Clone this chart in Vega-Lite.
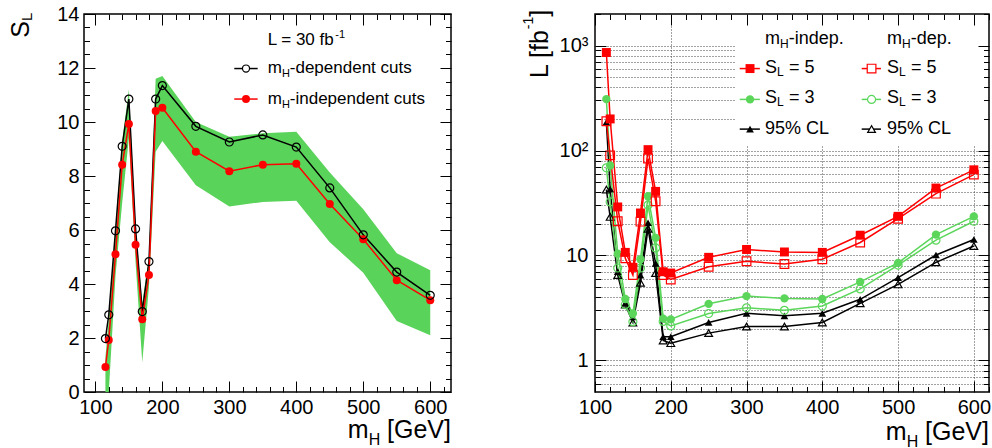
{
"$schema": "https://vega.github.io/schema/vega-lite/v6.json",
"padding": {"left": 8, "top": 3, "right": 2, "bottom": 2},
"bounds": "flush",
"spacing": 144,
"config": {"view": {"stroke": "black", "strokeWidth": 1.5}, "font": "Liberation Sans", "axis": {"labelFont": "Liberation Sans", "labelFontSize": 20, "labelColor": "black"}, "text": {"font": "Liberation Sans", "color": "black"}},
"datasets": {
"sl": [
{"m":115,"dep":1.98,"indep":0.93,"lo":0,"hi":1.3},
{"m":120,"dep":2.86,"indep":1.93,"lo":0,"hi":2.7},
{"m":130,"dep":5.97,"indep":5.1,"lo":4.3,"hi":6.0},
{"m":140,"dep":9.1,"indep":8.42,"lo":7.0,"hi":9.3},
{"m":150,"dep":10.85,"indep":9.93,"lo":9.4,"hi":11.2},
{"m":160,"dep":6.04,"indep":5.45,"lo":4.8,"hi":6.1},
{"m":170,"dep":2.98,"indep":2.69,"lo":1.1,"hi":3.3},
{"m":180,"dep":4.83,"indep":4.33,"lo":3.9,"hi":5.0},
{"m":190,"dep":10.85,"indep":10.41,"lo":8.9,"hi":11.6},
{"m":200,"dep":11.35,"indep":10.53,"lo":9.3,"hi":11.7},
{"m":250,"dep":9.84,"indep":8.9,"lo":7.66,"hi":10.0},
{"m":300,"dep":9.26,"indep":8.18,"lo":6.87,"hi":9.45},
{"m":350,"dep":9.52,"indep":8.42,"lo":7.04,"hi":9.58},
{"m":400,"dep":9.07,"indep":8.45,"lo":7.08,"hi":9.64},
{"m":450,"dep":7.56,"indep":6.96,"lo":5.55,"hi":8.13},
{"m":500,"dep":5.82,"indep":5.66,"lo":4.42,"hi":6.77},
{"m":550,"dep":4.44,"indep":4.14,"lo":2.63,"hi":5.14},
{"m":600,"dep":3.58,"indep":3.4,"lo":2.1,"hi":4.51}
],
"lumi": [
{"m":115,"s5i":859,"s5d":190,"s3i":309,"s3d":68.4,"cli":186,"cld":42.4},
{"m":120,"s5i":200,"s5d":90,"s3i":72,"s3d":32.4,"cli":43,"cld":23.3},
{"m":130,"s5i":29,"s5d":21.2,"s3i":10.4,"s3d":7.6,"cli":7.0,"cld":6.5},
{"m":140,"s5i":10.7,"s5d":9.4,"s3i":3.85,"s3d":3.4,"cli":3.5,"cld":3.4},
{"m":150,"s5i":7.7,"s5d":6.5,"s3i":2.8,"s3d":2.34,"cli":2.6,"cld":2.3},
{"m":160,"s5i":25.4,"s5d":21,"s3i":9.2,"s3d":7.6,"cli":6.5,"cld":5.5},
{"m":170,"s5i":102,"s5d":84,"s3i":36.7,"s3d":30.2,"cli":20.5,"cld":18},
{"m":180,"s5i":40.8,"s5d":32.9,"s3i":14.7,"s3d":11.8,"cli":8.4,"cld":6.8},
{"m":190,"s5i":7.0,"s5d":6.5,"s3i":2.5,"s3d":2.35,"cli":1.68,"cld":1.55},
{"m":200,"s5i":6.8,"s5d":5.9,"s3i":2.46,"s3d":2.13,"cli":1.68,"cld":1.46},
{"m":250,"s5i":9.6,"s5d":7.8,"s3i":3.46,"s3d":2.8,"cli":2.3,"cld":1.82},
{"m":300,"s5i":11.4,"s5d":8.8,"s3i":4.1,"s3d":3.17,"cli":2.81,"cld":2.1},
{"m":350,"s5i":10.8,"s5d":8.3,"s3i":3.9,"s3d":3.0,"cli":2.66,"cld":2.1},
{"m":400,"s5i":10.7,"s5d":9.2,"s3i":3.85,"s3d":3.3,"cli":2.81,"cld":2.3},
{"m":450,"s5i":15.6,"s5d":13.3,"s3i":5.6,"s3d":4.8,"cli":3.82,"cld":3.5},
{"m":500,"s5i":23.6,"s5d":22.4,"s3i":8.5,"s3d":8.1,"cli":6.14,"cld":5.3},
{"m":550,"s5i":43.9,"s5d":38.8,"s3i":15.8,"s3d":14.0,"cli":10.1,"cld":8.6},
{"m":600,"s5i":65.5,"s5d":59,"s3i":23.6,"s3d":21.2,"cli":14.2,"cld":12.3}
]
},
"hconcat": [
{
"width": 367, "height": 378,
"resolve": {"axis": {"x": "independent", "y": "independent"}},
"layer": [
{"data": {"name": "sl"}, "mark": {"type": "area", "color": "#5ad35a", "opacity": 1},
 "encoding": {
  "x": {"field": "m", "type": "quantitative", "scale": {"domain": [83, 631], "nice": false, "zero": false}, "axis": {"orient": "bottom", "values": [100,200,300,400,500,600], "ticks": false, "domain": false, "grid": false, "title": null, "labelPadding": 5, "labelFlush": false, "labelOverlap": false, "labelBound": false, "zindex": 0}},
  "y": {"field": "lo", "type": "quantitative", "scale": {"domain": [0, 14], "nice": false, "zero": false}, "axis": {"orient": "left", "values": [0,2,4,6,8,10,12,14], "ticks": false, "domain": false, "grid": false, "title": null, "labelPadding": 5, "labelFlush": false, "labelOverlap": false, "labelBound": false, "zindex": 0}},
  "y2": {"field": "hi"}}},
{"data": {"name": "sl"}, "mark": {"type": "line", "color": "black", "strokeWidth": 1.5},
 "encoding": {
  "x": {"field": "m", "type": "quantitative", "scale": {"domain": [83, 631], "nice": false, "zero": false}, "axis": {"orient": "bottom", "values": [100,120,140,160,180,200,220,240,260,280,300,320,340,360,380,400,420,440,460,480,500,520,540,560,580,600,620], "labels": false, "domain": false, "grid": false, "title": null, "tickColor": "black", "tickWidth": 1, "tickSize": {"condition": {"test": "datum.value % 100 === 0", "value": -11}, "value": -5.5}, "zindex": 1}},
  "y": {"field": "dep", "type": "quantitative", "scale": {"domain": [0, 14], "nice": false, "zero": false}, "axis": {"orient": "left", "values": [0,0.5,1,1.5,2,2.5,3,3.5,4,4.5,5,5.5,6,6.5,7,7.5,8,8.5,9,9.5,10,10.5,11,11.5,12,12.5,13,13.5,14], "labels": false, "domain": false, "grid": false, "title": null, "tickColor": "black", "tickWidth": 1, "tickSize": {"condition": {"test": "datum.value % 2 === 0", "value": -11}, "value": -5.5}, "zindex": 1}}}},
{"data": {"name": "sl"}, "mark": {"type": "line", "color": "#ff0000", "strokeWidth": 1.5},
 "encoding": {
  "x": {"field": "m", "type": "quantitative", "scale": {"domain": [83, 631], "nice": false, "zero": false}, "axis": {"orient": "top", "values": [100,120,140,160,180,200,220,240,260,280,300,320,340,360,380,400,420,440,460,480,500,520,540,560,580,600,620], "labels": false, "domain": false, "grid": false, "title": null, "tickColor": "black", "tickWidth": 1, "tickSize": {"condition": {"test": "datum.value % 100 === 0", "value": -11}, "value": -5.5}, "zindex": 1}},
  "y": {"field": "indep", "type": "quantitative", "scale": {"domain": [0, 14], "nice": false, "zero": false}, "axis": {"orient": "right", "values": [0,0.5,1,1.5,2,2.5,3,3.5,4,4.5,5,5.5,6,6.5,7,7.5,8,8.5,9,9.5,10,10.5,11,11.5,12,12.5,13,13.5,14], "labels": false, "domain": false, "grid": false, "title": null, "tickColor": "black", "tickWidth": 1, "tickSize": {"condition": {"test": "datum.value % 2 === 0", "value": -11}, "value": -5.5}, "zindex": 1}}}},
{"data": {"name": "sl"}, "mark": {"type": "circle", "color": "#ff0000", "size": 64, "opacity": 1},
 "encoding": {
  "x": {"field": "m", "type": "quantitative", "scale": {"domain": [83, 631], "nice": false, "zero": false}, "axis": null},
  "y": {"field": "indep", "type": "quantitative", "scale": {"domain": [0, 14], "nice": false, "zero": false}, "axis": null}}},
{"data": {"name": "sl"}, "mark": {"type": "point", "shape": "circle", "filled": false, "stroke": "black", "strokeWidth": 1.2, "size": 64, "opacity": 1},
 "encoding": {
  "x": {"field": "m", "type": "quantitative", "scale": {"domain": [83, 631], "nice": false, "zero": false}, "axis": null},
  "y": {"field": "dep", "type": "quantitative", "scale": {"domain": [0, 14], "nice": false, "zero": false}, "axis": null}}},
{"data": {"values": [{}]}, "mark": {"type": "text", "text": "L = 30 fb", "fontSize": 17, "align": "left", "baseline": "alphabetic"},
 "encoding": {"x": {"datum": 357.3, "type": "quantitative", "scale": {"domain": [83, 631], "nice": false, "zero": false}, "axis": null}, "y": {"datum": 12.85, "type": "quantitative", "scale": {"domain": [0, 14], "nice": false, "zero": false}, "axis": null}}},
{"data": {"values": [{}]}, "mark": {"type": "text", "text": "-1", "fontSize": 11, "align": "left", "baseline": "alphabetic"},
 "encoding": {"x": {"datum": 458.2, "type": "quantitative", "scale": {"domain": [83, 631], "nice": false, "zero": false}, "axis": null}, "y": {"datum": 13.12, "type": "quantitative", "scale": {"domain": [0, 14], "nice": false, "zero": false}, "axis": null}}},
{"data": {"values": [{}]}, "mark": {"type": "rule", "color": "black", "strokeWidth": 1.5},
 "encoding": {"x": {"datum": 307.4, "type": "quantitative", "scale": {"domain": [83, 631], "nice": false, "zero": false}, "axis": null}, "x2": {"datum": 342.3}, "y": {"datum": 11.98, "type": "quantitative", "scale": {"domain": [0, 14], "nice": false, "zero": false}, "axis": null}}},
{"data": {"values": [{}]}, "mark": {"type": "point", "shape": "circle", "filled": false, "fill": "white", "stroke": "black", "strokeWidth": 1.2, "size": 50, "opacity": 1},
 "encoding": {"x": {"datum": 324.9, "type": "quantitative", "scale": {"domain": [83, 631], "nice": false, "zero": false}, "axis": null}, "y": {"datum": 11.98, "type": "quantitative", "scale": {"domain": [0, 14], "nice": false, "zero": false}, "axis": null}}},
{"data": {"values": [{}]}, "mark": {"type": "text", "text": "m", "fontSize": 17, "align": "left", "baseline": "alphabetic"},
 "encoding": {"x": {"datum": 357.3, "type": "quantitative", "scale": {"domain": [83, 631], "nice": false, "zero": false}, "axis": null}, "y": {"datum": 11.80, "type": "quantitative", "scale": {"domain": [0, 14], "nice": false, "zero": false}, "axis": null}}},
{"data": {"values": [{}]}, "mark": {"type": "text", "text": "H", "fontSize": 11, "align": "left", "baseline": "alphabetic"},
 "encoding": {"x": {"datum": 378.5, "type": "quantitative", "scale": {"domain": [83, 631], "nice": false, "zero": false}, "axis": null}, "y": {"datum": 11.66, "type": "quantitative", "scale": {"domain": [0, 14], "nice": false, "zero": false}, "axis": null}}},
{"data": {"values": [{}]}, "mark": {"type": "text", "text": "-dependent cuts", "fontSize": 17, "align": "left", "baseline": "alphabetic"},
 "encoding": {"x": {"datum": 390.3, "type": "quantitative", "scale": {"domain": [83, 631], "nice": false, "zero": false}, "axis": null}, "y": {"datum": 11.80, "type": "quantitative", "scale": {"domain": [0, 14], "nice": false, "zero": false}, "axis": null}}},
{"data": {"values": [{}]}, "mark": {"type": "rule", "color": "#ff0000", "strokeWidth": 1.5},
 "encoding": {"x": {"datum": 307.4, "type": "quantitative", "scale": {"domain": [83, 631], "nice": false, "zero": false}, "axis": null}, "x2": {"datum": 342.3}, "y": {"datum": 10.85, "type": "quantitative", "scale": {"domain": [0, 14], "nice": false, "zero": false}, "axis": null}}},
{"data": {"values": [{}]}, "mark": {"type": "circle", "color": "#ff0000", "size": 64, "opacity": 1},
 "encoding": {"x": {"datum": 324.9, "type": "quantitative", "scale": {"domain": [83, 631], "nice": false, "zero": false}, "axis": null}, "y": {"datum": 10.85, "type": "quantitative", "scale": {"domain": [0, 14], "nice": false, "zero": false}, "axis": null}}},
{"data": {"values": [{}]}, "mark": {"type": "text", "text": "m", "fontSize": 17, "align": "left", "baseline": "alphabetic"},
 "encoding": {"x": {"datum": 357.3, "type": "quantitative", "scale": {"domain": [83, 631], "nice": false, "zero": false}, "axis": null}, "y": {"datum": 10.66, "type": "quantitative", "scale": {"domain": [0, 14], "nice": false, "zero": false}, "axis": null}}},
{"data": {"values": [{}]}, "mark": {"type": "text", "text": "H", "fontSize": 11, "align": "left", "baseline": "alphabetic"},
 "encoding": {"x": {"datum": 378.5, "type": "quantitative", "scale": {"domain": [83, 631], "nice": false, "zero": false}, "axis": null}, "y": {"datum": 10.52, "type": "quantitative", "scale": {"domain": [0, 14], "nice": false, "zero": false}, "axis": null}}},
{"data": {"values": [{}]}, "mark": {"type": "text", "text": "-independent cuts", "fontSize": 17, "align": "left", "baseline": "alphabetic"},
 "encoding": {"x": {"datum": 390.3, "type": "quantitative", "scale": {"domain": [83, 631], "nice": false, "zero": false}, "axis": null}, "y": {"datum": 10.66, "type": "quantitative", "scale": {"domain": [0, 14], "nice": false, "zero": false}, "axis": null}}},
{"data": {"values": [{}]}, "mark": {"type": "text", "text": "m", "fontSize": 25, "align": "left", "baseline": "alphabetic"},
 "encoding": {"x": {"datum": 476.9, "type": "quantitative", "scale": {"domain": [83, 631], "nice": false, "zero": false}, "axis": null}, "y": {"datum": -1.72, "type": "quantitative", "scale": {"domain": [0, 14], "nice": false, "zero": false}, "axis": null}}},
{"data": {"values": [{}]}, "mark": {"type": "text", "text": "H", "fontSize": 16, "align": "left", "baseline": "alphabetic"},
 "encoding": {"x": {"datum": 508.0, "type": "quantitative", "scale": {"domain": [83, 631], "nice": false, "zero": false}, "axis": null}, "y": {"datum": -1.98, "type": "quantitative", "scale": {"domain": [0, 14], "nice": false, "zero": false}, "axis": null}}},
{"data": {"values": [{}]}, "mark": {"type": "text", "text": "[GeV]", "fontSize": 25, "align": "right", "baseline": "alphabetic"},
 "encoding": {"x": {"datum": 631, "type": "quantitative", "scale": {"domain": [83, 631], "nice": false, "zero": false}, "axis": null}, "y": {"datum": -1.72, "type": "quantitative", "scale": {"domain": [0, 14], "nice": false, "zero": false}, "axis": null}}},
{"data": {"values": [{}]}, "mark": {"type": "text", "text": "S", "fontSize": 25, "angle": 270, "align": "left", "baseline": "alphabetic"},
 "encoding": {"x": {"datum": 0.87, "type": "quantitative", "scale": {"domain": [83, 631], "nice": false, "zero": false}, "axis": null}, "y": {"datum": 13.12, "type": "quantitative", "scale": {"domain": [0, 14], "nice": false, "zero": false}, "axis": null}}},
{"data": {"values": [{}]}, "mark": {"type": "text", "text": "L", "fontSize": 15, "angle": 270, "align": "left", "baseline": "alphabetic"},
 "encoding": {"x": {"datum": 5.35, "type": "quantitative", "scale": {"domain": [83, 631], "nice": false, "zero": false}, "axis": null}, "y": {"datum": 13.74, "type": "quantitative", "scale": {"domain": [0, 14], "nice": false, "zero": false}, "axis": null}}}
]
},
{
"width": 394, "height": 378,
"resolve": {"axis": {"x": "independent", "y": "independent"}},
"layer": [
{"data": {"values": [{}]}, "mark": {"type": "rect", "fill": "white"},
 "encoding": {"x": {"datum": 286, "type": "quantitative", "scale": {"domain": [100, 620], "nice": false, "zero": false}, "axis": null}, "x2": {"datum": 618.5}, "y": {"datum": 111, "type": "quantitative", "scale": {"type": "log", "domain": [0.5, 2000], "nice": false}, "axis": null}, "y2": {"datum": 1960}}},
{"data": {"name": "lumi"}, "mark": {"type": "line", "color": "black", "strokeWidth": 1.5},
 "encoding": {
  "x": {"field": "m", "type": "quantitative", "scale": {"domain": [100, 620], "nice": false, "zero": false}, "axis": {"orient": "bottom", "values": [100,200,300,400,500,600], "ticks": false, "domain": false, "grid": true, "gridColor": "#444444", "gridDash": [1, 2], "gridWidth": 1, "title": null, "labelPadding": 5, "labelFlush": false, "labelOverlap": false, "labelBound": false, "zindex": 0}},
  "y": {"field": "cld", "type": "quantitative", "scale": {"type": "log", "domain": [0.5, 2000], "nice": false}, "axis": {"orient": "left", "values": [0.6,0.7,0.8,0.9,1,2,3,4,5,6,7,8,9,10,20,30,40,50,60,70,80,90,100,200,300,400,500,600,700,800,900,1000,2000], "labelExpr": "datum.value == 1000 ? '10³' : datum.value == 100 ? '10²' : datum.value == 10 ? '10' : datum.value == 1 ? '1' : ''", "ticks": false, "domain": false, "grid": true, "gridColor": "#444444", "gridDash": [1, 2], "gridWidth": 1, "title": null, "labelPadding": 7, "labelFlush": false, "labelOverlap": false, "labelBound": false, "zindex": 0}}}},
{"data": {"name": "lumi"}, "mark": {"type": "line", "color": "black", "strokeWidth": 1.5},
 "encoding": {
  "x": {"field": "m", "type": "quantitative", "scale": {"domain": [100, 620], "nice": false, "zero": false}, "axis": {"orient": "bottom", "values": [100,120,140,160,180,200,220,240,260,280,300,320,340,360,380,400,420,440,460,480,500,520,540,560,580,600,620], "labels": false, "domain": false, "grid": false, "title": null, "tickColor": "black", "tickWidth": 1, "tickSize": {"condition": {"test": "datum.value % 100 === 0", "value": -11}, "value": -5.5}, "zindex": 1}},
  "y": {"field": "cli", "type": "quantitative", "scale": {"type": "log", "domain": [0.5, 2000], "nice": false}, "axis": {"orient": "left", "values": [0.6,0.7,0.8,0.9,1,2,3,4,5,6,7,8,9,10,20,30,40,50,60,70,80,90,100,200,300,400,500,600,700,800,900,1000,2000], "labels": false, "domain": false, "grid": false, "title": null, "tickColor": "black", "tickWidth": 1, "tickSize": {"condition": {"test": "indexof([1,10,100,1000], datum.value) >= 0", "value": -11}, "value": -5.5}, "zindex": 1}}}},
{"data": {"name": "lumi"}, "mark": {"type": "line", "color": "#5bd65b", "strokeWidth": 1.5},
 "encoding": {
  "x": {"field": "m", "type": "quantitative", "scale": {"domain": [100, 620], "nice": false, "zero": false}, "axis": {"orient": "top", "values": [100,120,140,160,180,200,220,240,260,280,300,320,340,360,380,400,420,440,460,480,500,520,540,560,580,600,620], "labels": false, "domain": false, "grid": false, "title": null, "tickColor": "black", "tickWidth": 1, "tickSize": {"condition": {"test": "datum.value % 100 === 0", "value": -11}, "value": -5.5}, "zindex": 1}},
  "y": {"field": "s3d", "type": "quantitative", "scale": {"type": "log", "domain": [0.5, 2000], "nice": false}, "axis": {"orient": "right", "values": [0.6,0.7,0.8,0.9,1,2,3,4,5,6,7,8,9,10,20,30,40,50,60,70,80,90,100,200,300,400,500,600,700,800,900,1000,2000], "labels": false, "domain": false, "grid": false, "title": null, "tickColor": "black", "tickWidth": 1, "tickSize": {"condition": {"test": "indexof([1,10,100,1000], datum.value) >= 0", "value": -11}, "value": -5.5}, "zindex": 1}}}},
{"data": {"name": "lumi"}, "mark": {"type": "line", "color": "#5bd65b", "strokeWidth": 1.5},
 "encoding": {"x": {"field": "m", "type": "quantitative", "scale": {"domain": [100, 620], "nice": false, "zero": false}, "axis": null}, "y": {"field": "s3i", "type": "quantitative", "scale": {"type": "log", "domain": [0.5, 2000], "nice": false}, "axis": null}}},
{"data": {"name": "lumi"}, "mark": {"type": "line", "color": "#ff0000", "strokeWidth": 1.5},
 "encoding": {"x": {"field": "m", "type": "quantitative", "scale": {"domain": [100, 620], "nice": false, "zero": false}, "axis": null}, "y": {"field": "s5d", "type": "quantitative", "scale": {"type": "log", "domain": [0.5, 2000], "nice": false}, "axis": null}}},
{"data": {"name": "lumi"}, "mark": {"type": "line", "color": "#ff0000", "strokeWidth": 1.5},
 "encoding": {"x": {"field": "m", "type": "quantitative", "scale": {"domain": [100, 620], "nice": false, "zero": false}, "axis": null}, "y": {"field": "s5i", "type": "quantitative", "scale": {"type": "log", "domain": [0.5, 2000], "nice": false}, "axis": null}}},
{"data": {"name": "lumi"}, "mark": {"type": "point", "shape": "triangle-up", "filled": false, "stroke": "black", "strokeWidth": 1.2, "size": 60, "opacity": 1},
 "encoding": {"x": {"field": "m", "type": "quantitative", "scale": {"domain": [100, 620], "nice": false, "zero": false}, "axis": null}, "y": {"field": "cld", "type": "quantitative", "scale": {"type": "log", "domain": [0.5, 2000], "nice": false}, "axis": null}}},
{"data": {"name": "lumi"}, "mark": {"type": "point", "shape": "triangle-up", "filled": true, "color": "black", "size": 60, "opacity": 1},
 "encoding": {"x": {"field": "m", "type": "quantitative", "scale": {"domain": [100, 620], "nice": false, "zero": false}, "axis": null}, "y": {"field": "cli", "type": "quantitative", "scale": {"type": "log", "domain": [0.5, 2000], "nice": false}, "axis": null}}},
{"data": {"name": "lumi"}, "mark": {"type": "point", "shape": "circle", "filled": false, "stroke": "#5bd65b", "strokeWidth": 1.2, "size": 64, "opacity": 1},
 "encoding": {"x": {"field": "m", "type": "quantitative", "scale": {"domain": [100, 620], "nice": false, "zero": false}, "axis": null}, "y": {"field": "s3d", "type": "quantitative", "scale": {"type": "log", "domain": [0.5, 2000], "nice": false}, "axis": null}}},
{"data": {"name": "lumi"}, "mark": {"type": "circle", "color": "#5bd65b", "size": 70, "opacity": 1},
 "encoding": {"x": {"field": "m", "type": "quantitative", "scale": {"domain": [100, 620], "nice": false, "zero": false}, "axis": null}, "y": {"field": "s3i", "type": "quantitative", "scale": {"type": "log", "domain": [0.5, 2000], "nice": false}, "axis": null}}},
{"data": {"name": "lumi"}, "mark": {"type": "point", "shape": "square", "filled": false, "stroke": "#ff0000", "strokeWidth": 1.2, "size": 75, "opacity": 1},
 "encoding": {"x": {"field": "m", "type": "quantitative", "scale": {"domain": [100, 620], "nice": false, "zero": false}, "axis": null}, "y": {"field": "s5d", "type": "quantitative", "scale": {"type": "log", "domain": [0.5, 2000], "nice": false}, "axis": null}}},
{"data": {"name": "lumi"}, "mark": {"type": "square", "color": "#ff0000", "size": 80, "opacity": 1},
 "encoding": {"x": {"field": "m", "type": "quantitative", "scale": {"domain": [100, 620], "nice": false, "zero": false}, "axis": null}, "y": {"field": "s5i", "type": "quantitative", "scale": {"type": "log", "domain": [0.5, 2000], "nice": false}, "axis": null}}},
{"data": {"values": [{}]}, "mark": {"type": "text", "text": "m", "fontSize": 18, "align": "left", "baseline": "alphabetic"},
 "encoding": {"x": {"datum": 324.4, "type": "quantitative", "scale": {"domain": [100, 620], "nice": false, "zero": false}, "axis": null}, "y": {"datum": 1032, "type": "quantitative", "scale": {"type": "log", "domain": [0.5, 2000], "nice": false}, "axis": null}}},
{"data": {"values": [{}]}, "mark": {"type": "text", "text": "H", "fontSize": 12, "align": "left", "baseline": "alphabetic"},
 "encoding": {"x": {"datum": 344.2, "type": "quantitative", "scale": {"domain": [100, 620], "nice": false, "zero": false}, "axis": null}, "y": {"datum": 951, "type": "quantitative", "scale": {"type": "log", "domain": [0.5, 2000], "nice": false}, "axis": null}}},
{"data": {"values": [{}]}, "mark": {"type": "text", "text": "-indep.", "fontSize": 18, "align": "left", "baseline": "alphabetic"},
 "encoding": {"x": {"datum": 355.6, "type": "quantitative", "scale": {"domain": [100, 620], "nice": false, "zero": false}, "axis": null}, "y": {"datum": 1032, "type": "quantitative", "scale": {"type": "log", "domain": [0.5, 2000], "nice": false}, "axis": null}}},
{"data": {"values": [{}]}, "mark": {"type": "text", "text": "m", "fontSize": 18, "align": "left", "baseline": "alphabetic"},
 "encoding": {"x": {"datum": 485.4, "type": "quantitative", "scale": {"domain": [100, 620], "nice": false, "zero": false}, "axis": null}, "y": {"datum": 1032, "type": "quantitative", "scale": {"type": "log", "domain": [0.5, 2000], "nice": false}, "axis": null}}},
{"data": {"values": [{}]}, "mark": {"type": "text", "text": "H", "fontSize": 12, "align": "left", "baseline": "alphabetic"},
 "encoding": {"x": {"datum": 505.2, "type": "quantitative", "scale": {"domain": [100, 620], "nice": false, "zero": false}, "axis": null}, "y": {"datum": 951, "type": "quantitative", "scale": {"type": "log", "domain": [0.5, 2000], "nice": false}, "axis": null}}},
{"data": {"values": [{}]}, "mark": {"type": "text", "text": "-dep.", "fontSize": 18, "align": "left", "baseline": "alphabetic"},
 "encoding": {"x": {"datum": 516.7, "type": "quantitative", "scale": {"domain": [100, 620], "nice": false, "zero": false}, "axis": null}, "y": {"datum": 1032, "type": "quantitative", "scale": {"type": "log", "domain": [0.5, 2000], "nice": false}, "axis": null}}},
{"data": {"values": [{}]}, "mark": {"type": "rule", "color": "#ff0000", "strokeWidth": 1.5},
 "encoding": {"x": {"datum": 291, "type": "quantitative", "scale": {"domain": [100, 620], "nice": false, "zero": false}, "axis": null}, "x2": {"datum": 317.6}, "y": {"datum": 604, "type": "quantitative", "scale": {"type": "log", "domain": [0.5, 2000], "nice": false}, "axis": null}}},
{"data": {"values": [{}]}, "mark": {"type": "square", "color": "#ff0000", "size": 80, "opacity": 1},
 "encoding": {"x": {"datum": 304.6, "type": "quantitative", "scale": {"domain": [100, 620], "nice": false, "zero": false}, "axis": null}, "y": {"datum": 604, "type": "quantitative", "scale": {"type": "log", "domain": [0.5, 2000], "nice": false}, "axis": null}}},
{"data": {"values": [{}]}, "mark": {"type": "rule", "color": "#ff0000", "strokeWidth": 1.5},
 "encoding": {"x": {"datum": 452, "type": "quantitative", "scale": {"domain": [100, 620], "nice": false, "zero": false}, "axis": null}, "x2": {"datum": 477.4}, "y": {"datum": 604, "type": "quantitative", "scale": {"type": "log", "domain": [0.5, 2000], "nice": false}, "axis": null}}},
{"data": {"values": [{}]}, "mark": {"type": "point", "shape": "square", "filled": true, "fill": "white", "stroke": "#ff0000", "strokeWidth": 1.2, "size": 75, "opacity": 1},
 "encoding": {"x": {"datum": 465, "type": "quantitative", "scale": {"domain": [100, 620], "nice": false, "zero": false}, "axis": null}, "y": {"datum": 604, "type": "quantitative", "scale": {"type": "log", "domain": [0.5, 2000], "nice": false}, "axis": null}}},
{"data": {"values": [{}]}, "mark": {"type": "rule", "color": "#5bd65b", "strokeWidth": 1.5},
 "encoding": {"x": {"datum": 291, "type": "quantitative", "scale": {"domain": [100, 620], "nice": false, "zero": false}, "axis": null}, "x2": {"datum": 317.6}, "y": {"datum": 307, "type": "quantitative", "scale": {"type": "log", "domain": [0.5, 2000], "nice": false}, "axis": null}}},
{"data": {"values": [{}]}, "mark": {"type": "circle", "color": "#5bd65b", "size": 70, "opacity": 1},
 "encoding": {"x": {"datum": 304.6, "type": "quantitative", "scale": {"domain": [100, 620], "nice": false, "zero": false}, "axis": null}, "y": {"datum": 307, "type": "quantitative", "scale": {"type": "log", "domain": [0.5, 2000], "nice": false}, "axis": null}}},
{"data": {"values": [{}]}, "mark": {"type": "rule", "color": "#5bd65b", "strokeWidth": 1.5},
 "encoding": {"x": {"datum": 452, "type": "quantitative", "scale": {"domain": [100, 620], "nice": false, "zero": false}, "axis": null}, "x2": {"datum": 477.4}, "y": {"datum": 307, "type": "quantitative", "scale": {"type": "log", "domain": [0.5, 2000], "nice": false}, "axis": null}}},
{"data": {"values": [{}]}, "mark": {"type": "point", "shape": "circle", "filled": true, "fill": "white", "stroke": "#5bd65b", "strokeWidth": 1.2, "size": 64, "opacity": 1},
 "encoding": {"x": {"datum": 465, "type": "quantitative", "scale": {"domain": [100, 620], "nice": false, "zero": false}, "axis": null}, "y": {"datum": 307, "type": "quantitative", "scale": {"type": "log", "domain": [0.5, 2000], "nice": false}, "axis": null}}},
{"data": {"values": [{}]}, "mark": {"type": "rule", "color": "black", "strokeWidth": 1.5},
 "encoding": {"x": {"datum": 291, "type": "quantitative", "scale": {"domain": [100, 620], "nice": false, "zero": false}, "axis": null}, "x2": {"datum": 317.6}, "y": {"datum": 160, "type": "quantitative", "scale": {"type": "log", "domain": [0.5, 2000], "nice": false}, "axis": null}}},
{"data": {"values": [{}]}, "mark": {"type": "point", "shape": "triangle-up", "filled": true, "color": "black", "size": 60, "opacity": 1},
 "encoding": {"x": {"datum": 304.6, "type": "quantitative", "scale": {"domain": [100, 620], "nice": false, "zero": false}, "axis": null}, "y": {"datum": 160, "type": "quantitative", "scale": {"type": "log", "domain": [0.5, 2000], "nice": false}, "axis": null}}},
{"data": {"values": [{}]}, "mark": {"type": "rule", "color": "black", "strokeWidth": 1.5},
 "encoding": {"x": {"datum": 452, "type": "quantitative", "scale": {"domain": [100, 620], "nice": false, "zero": false}, "axis": null}, "x2": {"datum": 477.4}, "y": {"datum": 160, "type": "quantitative", "scale": {"type": "log", "domain": [0.5, 2000], "nice": false}, "axis": null}}},
{"data": {"values": [{}]}, "mark": {"type": "point", "shape": "triangle-up", "filled": true, "fill": "white", "stroke": "black", "strokeWidth": 1.2, "size": 60, "opacity": 1},
 "encoding": {"x": {"datum": 465, "type": "quantitative", "scale": {"domain": [100, 620], "nice": false, "zero": false}, "axis": null}, "y": {"datum": 160, "type": "quantitative", "scale": {"type": "log", "domain": [0.5, 2000], "nice": false}, "axis": null}}},
{"data": {"values": [{}]}, "mark": {"type": "text", "text": "S", "fontSize": 18, "align": "left", "baseline": "alphabetic"},
 "encoding": {"x": {"datum": 324.4, "type": "quantitative", "scale": {"domain": [100, 620], "nice": false, "zero": false}, "axis": null}, "y": {"datum": 553, "type": "quantitative", "scale": {"type": "log", "domain": [0.5, 2000], "nice": false}, "axis": null}}},
{"data": {"values": [{}]}, "mark": {"type": "text", "text": "L", "fontSize": 12, "align": "left", "baseline": "alphabetic"},
 "encoding": {"x": {"datum": 340.2, "type": "quantitative", "scale": {"domain": [100, 620], "nice": false, "zero": false}, "axis": null}, "y": {"datum": 509, "type": "quantitative", "scale": {"type": "log", "domain": [0.5, 2000], "nice": false}, "axis": null}}},
{"data": {"values": [{}]}, "mark": {"type": "text", "text": "= 5", "fontSize": 18, "align": "left", "baseline": "alphabetic"},
 "encoding": {"x": {"datum": 356.0, "type": "quantitative", "scale": {"domain": [100, 620], "nice": false, "zero": false}, "axis": null}, "y": {"datum": 553, "type": "quantitative", "scale": {"type": "log", "domain": [0.5, 2000], "nice": false}, "axis": null}}},
{"data": {"values": [{}]}, "mark": {"type": "text", "text": "S", "fontSize": 18, "align": "left", "baseline": "alphabetic"},
 "encoding": {"x": {"datum": 485.4, "type": "quantitative", "scale": {"domain": [100, 620], "nice": false, "zero": false}, "axis": null}, "y": {"datum": 553, "type": "quantitative", "scale": {"type": "log", "domain": [0.5, 2000], "nice": false}, "axis": null}}},
{"data": {"values": [{}]}, "mark": {"type": "text", "text": "L", "fontSize": 12, "align": "left", "baseline": "alphabetic"},
 "encoding": {"x": {"datum": 501.3, "type": "quantitative", "scale": {"domain": [100, 620], "nice": false, "zero": false}, "axis": null}, "y": {"datum": 509, "type": "quantitative", "scale": {"type": "log", "domain": [0.5, 2000], "nice": false}, "axis": null}}},
{"data": {"values": [{}]}, "mark": {"type": "text", "text": "= 5", "fontSize": 18, "align": "left", "baseline": "alphabetic"},
 "encoding": {"x": {"datum": 517.0, "type": "quantitative", "scale": {"domain": [100, 620], "nice": false, "zero": false}, "axis": null}, "y": {"datum": 553, "type": "quantitative", "scale": {"type": "log", "domain": [0.5, 2000], "nice": false}, "axis": null}}},
{"data": {"values": [{}]}, "mark": {"type": "text", "text": "S", "fontSize": 18, "align": "left", "baseline": "alphabetic"},
 "encoding": {"x": {"datum": 324.4, "type": "quantitative", "scale": {"domain": [100, 620], "nice": false, "zero": false}, "axis": null}, "y": {"datum": 286, "type": "quantitative", "scale": {"type": "log", "domain": [0.5, 2000], "nice": false}, "axis": null}}},
{"data": {"values": [{}]}, "mark": {"type": "text", "text": "L", "fontSize": 12, "align": "left", "baseline": "alphabetic"},
 "encoding": {"x": {"datum": 340.2, "type": "quantitative", "scale": {"domain": [100, 620], "nice": false, "zero": false}, "axis": null}, "y": {"datum": 263, "type": "quantitative", "scale": {"type": "log", "domain": [0.5, 2000], "nice": false}, "axis": null}}},
{"data": {"values": [{}]}, "mark": {"type": "text", "text": "= 3", "fontSize": 18, "align": "left", "baseline": "alphabetic"},
 "encoding": {"x": {"datum": 356.0, "type": "quantitative", "scale": {"domain": [100, 620], "nice": false, "zero": false}, "axis": null}, "y": {"datum": 286, "type": "quantitative", "scale": {"type": "log", "domain": [0.5, 2000], "nice": false}, "axis": null}}},
{"data": {"values": [{}]}, "mark": {"type": "text", "text": "S", "fontSize": 18, "align": "left", "baseline": "alphabetic"},
 "encoding": {"x": {"datum": 485.4, "type": "quantitative", "scale": {"domain": [100, 620], "nice": false, "zero": false}, "axis": null}, "y": {"datum": 286, "type": "quantitative", "scale": {"type": "log", "domain": [0.5, 2000], "nice": false}, "axis": null}}},
{"data": {"values": [{}]}, "mark": {"type": "text", "text": "L", "fontSize": 12, "align": "left", "baseline": "alphabetic"},
 "encoding": {"x": {"datum": 501.3, "type": "quantitative", "scale": {"domain": [100, 620], "nice": false, "zero": false}, "axis": null}, "y": {"datum": 263, "type": "quantitative", "scale": {"type": "log", "domain": [0.5, 2000], "nice": false}, "axis": null}}},
{"data": {"values": [{}]}, "mark": {"type": "text", "text": "= 3", "fontSize": 18, "align": "left", "baseline": "alphabetic"},
 "encoding": {"x": {"datum": 517.0, "type": "quantitative", "scale": {"domain": [100, 620], "nice": false, "zero": false}, "axis": null}, "y": {"datum": 286, "type": "quantitative", "scale": {"type": "log", "domain": [0.5, 2000], "nice": false}, "axis": null}}},
{"data": {"values": [{}]}, "mark": {"type": "text", "text": "95% CL", "fontSize": 18, "align": "left", "baseline": "alphabetic"},
 "encoding": {"x": {"datum": 324.4, "type": "quantitative", "scale": {"domain": [100, 620], "nice": false, "zero": false}, "axis": null}, "y": {"datum": 143, "type": "quantitative", "scale": {"type": "log", "domain": [0.5, 2000], "nice": false}, "axis": null}}},
{"data": {"values": [{}]}, "mark": {"type": "text", "text": "95% CL", "fontSize": 18, "align": "left", "baseline": "alphabetic"},
 "encoding": {"x": {"datum": 485.4, "type": "quantitative", "scale": {"domain": [100, 620], "nice": false, "zero": false}, "axis": null}, "y": {"datum": 143, "type": "quantitative", "scale": {"type": "log", "domain": [0.5, 2000], "nice": false}, "axis": null}}},
{"data": {"values": [{}]}, "mark": {"type": "text", "text": "m", "fontSize": 25, "align": "left", "baseline": "alphabetic"},
 "encoding": {"x": {"datum": 483.8, "type": "quantitative", "scale": {"domain": [100, 620], "nice": false, "zero": false}, "axis": null}, "y": {"datum": 0.175, "type": "quantitative", "scale": {"type": "log", "domain": [0.5, 2000], "nice": false}, "axis": null}}},
{"data": {"values": [{}]}, "mark": {"type": "text", "text": "H", "fontSize": 16, "align": "left", "baseline": "alphabetic"},
 "encoding": {"x": {"datum": 511.3, "type": "quantitative", "scale": {"domain": [100, 620], "nice": false, "zero": false}, "axis": null}, "y": {"datum": 0.15, "type": "quantitative", "scale": {"type": "log", "domain": [0.5, 2000], "nice": false}, "axis": null}}},
{"data": {"values": [{}]}, "mark": {"type": "text", "text": "[GeV]", "fontSize": 25, "align": "right", "baseline": "alphabetic"},
 "encoding": {"x": {"datum": 620, "type": "quantitative", "scale": {"domain": [100, 620], "nice": false, "zero": false}, "axis": null}, "y": {"datum": 0.175, "type": "quantitative", "scale": {"type": "log", "domain": [0.5, 2000], "nice": false}, "axis": null}}},
{"data": {"values": [{}]}, "mark": {"type": "text", "text": "L [fb", "fontSize": 25, "angle": 270, "align": "left", "baseline": "alphabetic"},
 "encoding": {"x": {"datum": 38, "type": "quantitative", "scale": {"domain": [100, 620], "nice": false, "zero": false}, "axis": null}, "y": {"datum": 492, "type": "quantitative", "scale": {"type": "log", "domain": [0.5, 2000], "nice": false}, "axis": null}}},
{"data": {"values": [{}]}, "mark": {"type": "text", "text": "-1", "fontSize": 14, "angle": 270, "align": "left", "baseline": "alphabetic"},
 "encoding": {"x": {"datum": 18.2, "type": "quantitative", "scale": {"domain": [100, 620], "nice": false, "zero": false}, "axis": null}, "y": {"datum": 1434, "type": "quantitative", "scale": {"type": "log", "domain": [0.5, 2000], "nice": false}, "axis": null}}},
{"data": {"values": [{}]}, "mark": {"type": "text", "text": "]", "fontSize": 25, "angle": 270, "align": "left", "baseline": "alphabetic"},
 "encoding": {"x": {"datum": 38, "type": "quantitative", "scale": {"domain": [100, 620], "nice": false, "zero": false}, "axis": null}, "y": {"datum": 1883, "type": "quantitative", "scale": {"type": "log", "domain": [0.5, 2000], "nice": false}, "axis": null}}}
]
}
]
}
